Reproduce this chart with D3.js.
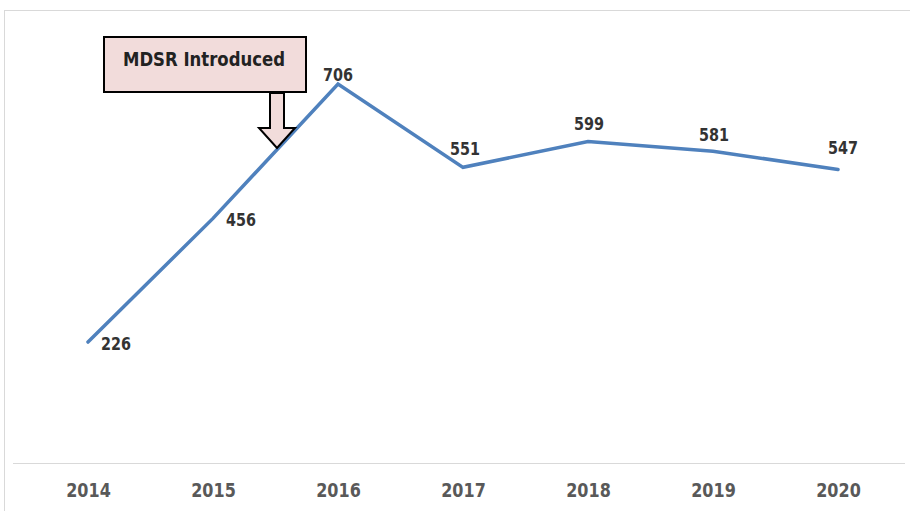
<!DOCTYPE html>
<html>
<head>
<meta charset="utf-8">
<script src="https://cdn.jsdelivr.net/npm/d3@7"></script>
<style>
  html, body { margin: 0; padding: 0; background: #fff; }
  svg { display: block; }
</style>
</head>
<body>
<svg id="chart" width="910" height="511"></svg>
<script>
// Maternal death reviews per year
const years = ["2014", "2015", "2016", "2017", "2018", "2019", "2020"];
const counts = [226, 456, 706, 551, 599, 581, 547];
const annotationText = "MDSR Introduced";

// Label layout: vertical and horizontal offset of each value label from its point
const labelDy = [8, 8, -3, -12, -12, -10, -15];
const labelDx = [28, 28, 0, 2, 1, 1, 5];

const FONT = "'DejaVu Sans', sans-serif";
const SQUEEZE = 0.8; // horizontal squeeze for a condensed look

const svg = d3.select("#chart");
const W = 910, H = 511;

// outer frame
svg.append("rect")
  .attr("x", 4.5).attr("y", 10.5)
  .attr("width", W + 10).attr("height", H)
  .attr("fill", "#fff")
  .attr("stroke", "#d9d9d9").attr("stroke-width", 1);

const x = d3.scalePoint().domain(years).range([88, 838]);
const y = d3.scaleLinear().domain([0, 800]).range([463.5, 33.5]);

// category axis along the baseline
const xAxis = svg.append("g")
  .attr("transform", `translate(0,${y(0)})`)
  .call(d3.axisBottom(x).tickSize(0).tickPadding(19));
xAxis.select(".domain").remove();
svg.append("line")
  .attr("x1", 13).attr("x2", 905)
  .attr("y1", y(0)).attr("y2", y(0))
  .attr("stroke", "#d9d9d9").attr("stroke-width", 1.2);
xAxis.selectAll("text")
  .attr("font-family", FONT)
  .attr("font-weight", "bold")
  .attr("font-size", 20)
  .attr("fill", "#595959")
  .attr("dy", "0.71em")
  .attr("transform", `scale(${SQUEEZE},1)`);

// series line
const line = d3.line()
  .x((d, i) => x(years[i]))
  .y(d => y(d));
svg.append("path")
  .datum(counts)
  .attr("d", line)
  .attr("fill", "none")
  .attr("stroke", "#4f81bd")
  .attr("stroke-width", 3.5)
  .attr("stroke-linejoin", "miter")
  .attr("stroke-linecap", "round");

// value labels
svg.append("g").selectAll("text")
  .data(counts)
  .join("text")
  .attr("transform", (d, i) =>
    `translate(${x(years[i]) + labelDx[i]},${y(d) + labelDy[i]}) scale(${SQUEEZE},1)`)
  .attr("text-anchor", "middle")
  .attr("font-family", FONT)
  .attr("font-weight", "bold")
  .attr("font-size", 18)
  .attr("fill", "#333")
  .text(d => d);

// annotation callout
const ann = svg.append("g");
ann.append("rect")
  .attr("x", 104).attr("y", 37)
  .attr("width", 202).attr("height", 55)
  .attr("fill", "#f2dcdb")
  .attr("stroke", "#000").attr("stroke-width", 2);
ann.append("text")
  .attr("x", 204).attr("y", 65.5)
  .attr("text-anchor", "middle")
  .attr("font-family", FONT)
  .attr("font-weight", "bold")
  .attr("font-size", 19)
  .attr("textLength", 162)
  .attr("lengthAdjust", "spacingAndGlyphs")
  .attr("fill", "#222")
  .text(annotationText);
ann.append("path")
  .attr("d", "M270,93 L284,93 L284,128 L295,128 L277,148 L259,128 L270,128 Z")
  .attr("fill", "#f2dcdb")
  .attr("stroke", "#000").attr("stroke-width", 2)
  .attr("stroke-linejoin", "miter");
</script>
</body>
</html>
